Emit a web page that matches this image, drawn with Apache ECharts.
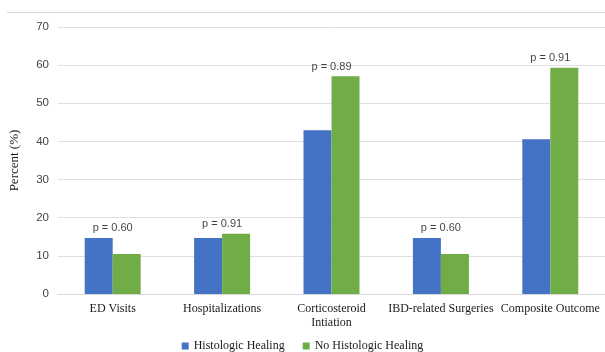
<!DOCTYPE html>
<html><head><meta charset="utf-8">
<script src="https://cdn.jsdelivr.net/npm/echarts@6/dist/echarts.min.js"></script>
<style>html,body{margin:0;padding:0;background:#fff}#c{width:605px;height:352px}</style>
</head><body><div id="c"></div>
<script>
const categories = ['ED Visits', 'Hospitalizations', 'Corticosteroid\nIntiation', 'IBD-related Surgeries', 'Composite Outcome'];
const healing = [14.7, 14.7, 42.9, 14.7, 40.6];
const noHealing = [10.5, 15.8, 57.1, 10.5, 59.3];
const pValues = ['p = 0.60', 'p = 0.91', 'p = 0.89', 'p = 0.60', 'p = 0.91'];
const yTicks = [0, 10, 20, 30, 40, 50, 60, 70];

const serif = '"Liberation Serif", "Times New Roman", serif';
const sans = '"Liberation Sans", Arial, sans-serif';
const chart = echarts.init(document.getElementById('c'), null, {renderer: 'canvas'});
chart.setOption({
  animation: false,
  graphic: [{type: 'line', shape: {x1: 7, y1: 12.5, x2: 605, y2: 12.5}, style: {stroke: '#d9d9d9', lineWidth: 1}}],
  grid: {left: 58, width: 554, top: 27, bottom: 58},
  legend: {
    data: ['Histologic Healing', 'No Histologic Healing'],
    bottom: -5, left: 'center', itemWidth: 7, itemHeight: 7, itemGap: 18, icon: 'rect',
    textStyle: {fontFamily: serif, fontSize: 12, color: '#1a1a1a'}
  },
  xAxis: {
    type: 'category', data: categories,
    axisLine: {lineStyle: {color: '#d9d9d9'}}, axisTick: {show: false},
    axisLabel: {fontFamily: serif, fontSize: 12, color: '#1a1a1a', margin: 8, lineHeight: 14, interval: 0}
  },
  yAxis: {
    type: 'value', min: yTicks[0], max: yTicks[yTicks.length - 1], interval: 10,
    name: 'Percent (%)', nameLocation: 'middle', nameGap: 37,
    nameTextStyle: {fontFamily: serif, fontSize: 13, color: '#1a1a1a'},
    axisLine: {show: false}, axisTick: {show: false},
    axisLabel: {fontFamily: sans, fontSize: 11.5, color: '#444', margin: 9},
    splitLine: {lineStyle: {color: '#e0e0e0'}}
  },
  series: [
    {name: 'Histologic Healing', type: 'bar', data: healing, barWidth: 28, barGap: '0%', itemStyle: {color: '#4472C4'}},
    {name: 'No Histologic Healing', type: 'bar', data: noHealing, barWidth: 28, itemStyle: {color: '#70AD47'}},
    {name: 'p', type: 'scatter', symbolSize: 0, silent: true,
     data: healing.map((v, i) => Math.max(v, noHealing[i])),
     label: {show: true, position: 'top', distance: 4, formatter: p => pValues[p.dataIndex],
             fontFamily: sans, fontSize: 11, color: '#111'}}
  ]
});
</script></body></html>
